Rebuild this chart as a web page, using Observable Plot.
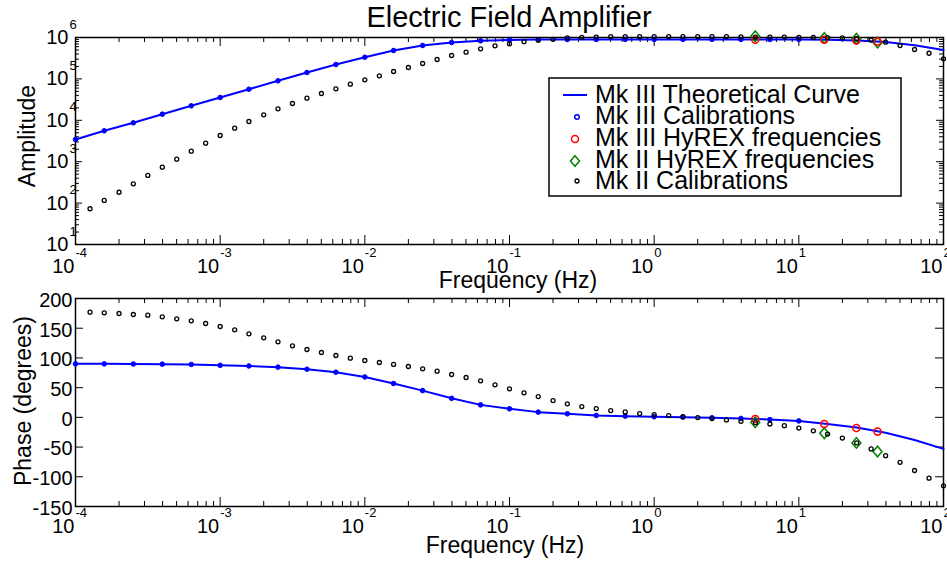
<!DOCTYPE html>
<html><head><meta charset="utf-8">
<script src="https://cdn.jsdelivr.net/npm/d3@7"></script>
<script src="https://cdn.jsdelivr.net/npm/@observablehq/plot@0.6"></script>
<style>
body{margin:0;background:#fff;}
#root{position:relative;width:947px;height:565px;color:#000;}
#root svg{position:absolute;left:0;overflow:visible;}
</style></head><body><div id="root"></div>
<script>
// ---------- data ----------
const mk3Freq = [0.0001, 0.000158, 0.000251, 0.000398, 0.000631, 0.001, 0.00158, 0.00251, 0.00398, 0.00631,
  0.01, 0.0158, 0.0251, 0.0398, 0.0631, 0.1, 0.158, 0.251, 0.398, 0.631, 1, 1.58, 2.51, 3.98, 6.31, 10];
const mk3Amp = [3436, 5572, 8690, 14060, 22390, 35560, 56360, 89950, 142900, 222800,
  334200, 485300, 641200, 756800, 831800, 871000, 891300, 895000, 898000, 900000, 900000, 900000, 900000, 900000, 898000, 897000];
const mk3Phase = [90, 90, 89.8, 89.5, 89, 87.5, 86.5, 84.5, 81, 76,
  68, 57, 45, 32, 21, 14.4, 8.8, 6, 3.2, 2, 1, 0.3, -0.7, -1.8, -3.8, -6];

const theoryFreq = [0.0001, 0.000158, 0.000251, 0.000398, 0.000631, 0.001, 0.00158, 0.00251, 0.00398, 0.00631,
  0.01, 0.0158, 0.0251, 0.0398, 0.0631, 0.1, 0.158, 0.251, 0.398, 0.631, 1, 1.58, 2.51, 3.98, 6.31, 10,
  15.8, 25.1, 39.8, 63.1, 100];
const theoryAmp = [3436, 5572, 8690, 14060, 22390, 35560, 56360, 89950, 142900, 222800,
  334200, 485300, 641200, 756800, 831800, 871000, 891300, 895000, 898000, 900000, 900000, 900000, 900000, 900000, 898000, 897000,
  881000, 851000, 776000, 646000, 501000];
const theoryPhase = [90, 90, 89.8, 89.5, 89, 87.5, 86.5, 84.5, 81, 76,
  68, 57, 45, 32, 21, 14.4, 8.8, 6, 3.2, 2, 1, 0.3, -0.7, -1.8, -3.8, -6,
  -11, -17, -26, -38, -53];

const mk2Freq = [0.000126, 0.000158, 0.0002, 0.000251, 0.000316, 0.000398, 0.000501, 0.000631, 0.000794, 0.001,
  0.00126, 0.00158, 0.002, 0.00251, 0.00316, 0.00398, 0.00501, 0.00631, 0.00794, 0.01,
  0.0126, 0.0158, 0.02, 0.0251, 0.0316, 0.0398, 0.0501, 0.0631, 0.0794, 0.1,
  0.126, 0.158, 0.2, 0.251, 0.316, 0.398, 0.501, 0.631, 0.794, 1,
  1.26, 1.58, 2, 2.51, 3.16, 3.98, 5.01, 6.31, 7.94, 10,
  12.6, 15.8, 20, 25.1, 31.6, 39.8, 50.1, 63.1, 79.4, 100];
const mk2Amp = [73, 116, 183, 292, 465, 736, 1151, 1795, 2799, 4295,
  6457, 9354, 13580, 18970, 25470, 34200, 44360, 57680, 74470, 95060,
  118900, 151000, 188400, 235500, 294400, 367300, 441600, 533300, 630000, 704700,
  794300, 861000, 901600, 977200, 1012000, 1023000, 1047000, 1047000, 1047000, 1047000,
  1047000, 1047000, 1047000, 1047000, 1047000, 1035000, 1023000, 1023000, 1023000, 1012000,
  1000000, 988600, 977200, 933300, 871000, 769100, 641200, 512900, 416900, 306200];
const mk2Phase = [177, 175.9, 174.8, 173.1, 172, 169.2, 165.8, 162.5, 157.9, 152.9,
  147.3, 140.6, 133.9, 127.1, 120.4, 114.2, 109.1, 104.1, 99.6, 95.7,
  92.3, 89, 85.6, 81.7, 77.7, 72.1, 67.1, 61.5, 54.8, 48,
  41.3, 35, 28.3, 22.7, 18.2, 14.8, 11.4, 9.2, 6.4, 4.7,
  3, 1.3, -0.4, -2.1, -4.3, -6.7, -9, -11.2, -14, -18,
  -22.6, -28.2, -34.9, -43, -53.1, -64.4, -75.6, -89.4, -102.4, -115.2];

const hyrexFreq = [5, 15, 25, 35];
const mk3HyrexAmp = [879000, 879000, 847000, 800000];
const mk2HyrexAmp = [1071000, 977000, 933000, 759000];
const mk3HyrexPhase = [-2.8, -11.2, -18, -24];
const mk2HyrexPhase = [-8.4, -26.7, -43, -57.5];

const xTicks = [1e-4, 1e-3, 1e-2, 1e-1, 1, 10, 100];
const xTickExp = ["-4", "-3", "-2", "-1", "0", "1", "2"];
const ampTicks = [10, 100, 1000, 10000, 100000, 1000000];
const ampTickExp = ["1", "2", "3", "4", "5", "6"];
const phaseTicks = [-150, -100, -50, 0, 50, 100, 150, 200];

const title = "Electric Field Amplifier";
const xLabel = "Frequency (Hz)";
const ampLabel = "Amplitude";
const phaseLabel = "Phase (degrees)";
const legendNames = ["Mk III Theoretical Curve", "Mk III Calibrations", "Mk III HyREX frequencies", "Mk II HyREX frequencies", "Mk II Calibrations"];

// ---------- tables ----------
const theory = theoryFreq.map((f, i) => ({f, amp: theoryAmp[i], phase: theoryPhase[i]}));
const mk3 = mk3Freq.map((f, i) => ({f, amp: mk3Amp[i], phase: mk3Phase[i]}));
const mk2 = mk2Freq.map((f, i) => ({f, amp: mk2Amp[i], phase: mk2Phase[i]}));
const hyrex = hyrexFreq.map((f, i) => ({f, amp3: mk3HyrexAmp[i], amp2: mk2HyrexAmp[i], ph3: mk3HyrexPhase[i], ph2: mk2HyrexPhase[i]}));

// ---------- layout ----------
const FONT = '"Liberation Sans", Arial, Helvetica, sans-serif';
const W = 947, ML = 75, MR = 4, innerW = W - ML - MR;
const BLUE = "#0000ff", RED = "#ff0000", GREEN = "#008000";

const diamond = {draw(ctx, size) {
  const h = Math.sqrt(size) * 0.62, w = h * 0.85;
  ctx.moveTo(0, -h); ctx.lineTo(w, 0); ctx.lineTo(0, h); ctx.lineTo(-w, 0); ctx.closePath();
}};

function minorLog(lo, hi) {
  const out = [];
  for (let e = lo; e < hi; e++) for (let m = 2; m <= 9; m++) out.push(m * Math.pow(10, e));
  return out;
}
const xMinor = minorLog(-4, 2);

function xFrameTicks(H) {
  return [
    Plot.tickX(xMinor, {x: d => d, insetTop: H - 5, stroke: "black"}),
    Plot.tickX(xMinor, {x: d => d, insetBottom: H - 5, stroke: "black"}),
    Plot.tickX(xTicks, {x: d => d, insetTop: H - 9, stroke: "black"}),
    Plot.tickX(xTicks, {x: d => d, insetBottom: H - 9, stroke: "black"})
  ];
}
function yFrameTicks(values, len) {
  return [
    Plot.tickY(values, {y: d => d, insetRight: innerW - len, stroke: "black"}),
    Plot.tickY(values, {y: d => d, insetLeft: innerW - len, stroke: "black"})
  ];
}
function xLabels(dy) {
  const m = new Map(xTicks.map((t, i) => [t, xTickExp[i]]));
  return [
    Plot.axisX(xTicks, {tickSize: 0, tickPadding: 0, tickFormat: () => "10", textAnchor: "end", dx: -1, dy: dy, fontSize: 20, label: null}),
    Plot.axisX(xTicks, {tickSize: 0, tickPadding: 0, tickFormat: d => m.get(d), textAnchor: "start", dx: 0, dy: dy - 11, fontSize: 13, label: null})
  ];
}

const root = document.getElementById("root");

// ---------- amplitude panel ----------
const HT = 290, topMT = 37, topMB = 46, topH = HT - topMT - topMB;
const yMinorAmp = minorLog(1, 6);
const ampMap = new Map(ampTicks.map((t, i) => [t, ampTickExp[i]]));
const topPlot = Plot.plot({
  width: W, height: HT, marginTop: topMT, marginBottom: topMB, marginLeft: ML, marginRight: MR,
  style: {fontFamily: FONT, fontSize: "20px", overflow: "visible", color: "black", background: "transparent"},
  x: {type: "log", domain: [1e-4, 1e2]},
  y: {type: "log", domain: [10, 1e6]},
  marks: [
    ...xFrameTicks(topH),
    ...yFrameTicks(yMinorAmp, 4),
    ...yFrameTicks(ampTicks, 7),
    Plot.frame({stroke: "black", strokeWidth: 1.5}),
    ...xLabels(14),
    Plot.axisY(ampTicks, {tickSize: 0, tickPadding: 0, tickFormat: () => "10", textAnchor: "end", dx: -7, dy: 0, fontSize: 20, label: null}),
    Plot.axisY(ampTicks, {tickSize: 0, tickPadding: 0, tickFormat: d => ampMap.get(d), textAnchor: "start", dx: -6, dy: -13, fontSize: 13, label: null}),
    Plot.line(theory, {x: "f", y: "amp", stroke: BLUE, strokeWidth: 2}),
    Plot.dot(mk3, {x: "f", y: "amp", r: 2.3, fill: BLUE, stroke: BLUE, strokeWidth: 1}),
    Plot.dot(hyrex, {x: "f", y: "amp2", symbol: diamond, r: 4.8, stroke: GREEN, strokeWidth: 1.5, fill: "none"}),
    Plot.dot(hyrex, {x: "f", y: "amp3", r: 3.5, stroke: RED, strokeWidth: 1.5, fill: "none"}),
    Plot.dot(mk2, {x: "f", y: "amp", r: 2, stroke: "black", strokeWidth: 1.3, fill: "none"}),
    Plot.text([xLabel], {text: d => d, frameAnchor: "bottom", dx: 8.5, dy: 43, lineAnchor: "bottom", fontSize: 23}),
    Plot.text([ampLabel], {text: d => d, frameAnchor: "left", rotate: -90, dx: -41, dy: -5, lineAnchor: "bottom", textAnchor: "middle", fontSize: 23})
  ]
});
topPlot.style.top = "0px";
root.appendChild(topPlot);

// ---------- phase panel ----------
const HB = 275, botMT = 8, botMB = 59, botH = HB - botMT - botMB;
const botPlot = Plot.plot({
  width: W, height: HB, marginTop: botMT, marginBottom: botMB, marginLeft: ML, marginRight: MR,
  style: {fontFamily: FONT, fontSize: "20px", overflow: "visible", color: "black", background: "transparent"},
  x: {type: "log", domain: [1e-4, 1e2]},
  y: {domain: [-150, 200]},
  marks: [
    ...xFrameTicks(botH),
    ...yFrameTicks(phaseTicks, 8),
    Plot.frame({stroke: "black", strokeWidth: 1.5}),
    ...xLabels(12),
    Plot.axisY(phaseTicks, {tickSize: 0, tickPadding: 0, tickFormat: d => String(d), textAnchor: "end", dx: -3, dy: 2, fontSize: 20, label: null}),
    Plot.line(theory, {x: "f", y: "phase", stroke: BLUE, strokeWidth: 2}),
    Plot.dot(mk3, {x: "f", y: "phase", r: 2.3, fill: BLUE, stroke: BLUE, strokeWidth: 1}),
    Plot.dot(hyrex, {x: "f", y: "ph2", symbol: diamond, r: 4.8, stroke: GREEN, strokeWidth: 1.5, fill: "none"}),
    Plot.dot(hyrex, {x: "f", y: "ph3", r: 3.5, stroke: RED, strokeWidth: 1.5, fill: "none"}),
    Plot.dot(mk2, {x: "f", y: "phase", r: 2, stroke: "black", strokeWidth: 1.3, fill: "none"}),
    Plot.text([xLabel], {text: d => d, frameAnchor: "bottom", dx: -4.5, dy: 46, lineAnchor: "bottom", fontSize: 23}),
    Plot.text([phaseLabel], {text: d => d, frameAnchor: "left", rotate: -90, dx: -45, dy: -1.5, lineAnchor: "bottom", textAnchor: "middle", fontSize: 23})
  ]
});
botPlot.style.top = HT + "px";
root.appendChild(botPlot);

// ---------- title + legend overlay ----------
const ov = d3.select(root).append("svg")
  .attr("width", W).attr("height", 565)
  .style("top", "0px").style("pointer-events", "none")
  .style("font-family", FONT);
ov.append("text").attr("x", 509).attr("y", 27).attr("text-anchor", "middle")
  .attr("font-size", 29).attr("fill", "black").text(title);

const lg = ov.append("g").attr("transform", "translate(549,78)");
lg.append("rect").attr("width", 352).attr("height", 118).attr("fill", "white").attr("stroke", "black").attr("stroke-width", 1.5);
const rowY = [17, 39, 61, 83, 103];
const baseY = [25.3, 46, 68, 89.7, 111.3];
lg.append("line").attr("x1", 14).attr("x2", 38).attr("y1", rowY[0]).attr("y2", rowY[0]).attr("stroke", BLUE).attr("stroke-width", 2);
lg.append("circle").attr("cx", 28).attr("cy", rowY[1]).attr("r", 2.3).attr("fill", "none").attr("stroke", BLUE).attr("stroke-width", 1.5);
lg.append("circle").attr("cx", 26).attr("cy", rowY[2]).attr("r", 3.5).attr("fill", "none").attr("stroke", RED).attr("stroke-width", 1.5);
lg.append("path").attr("d", "M26," + (rowY[3] - 5.3) + "L30.5," + rowY[3] + "L26," + (rowY[3] + 5.3) + "L21.5," + rowY[3] + "Z")
  .attr("fill", "none").attr("stroke", GREEN).attr("stroke-width", 1.5);
lg.append("circle").attr("cx", 28).attr("cy", rowY[4]).attr("r", 2).attr("fill", "none").attr("stroke", "black").attr("stroke-width", 1.3);
legendNames.forEach((n, i) => {
  lg.append("text").attr("x", 46).attr("y", baseY[i]).attr("font-size", 25).attr("fill", "black").text(n);
});
</script></body></html>
